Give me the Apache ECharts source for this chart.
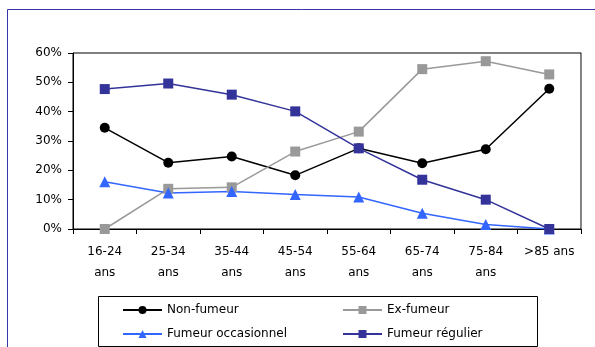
<!DOCTYPE html>
<html>
<head>
<meta charset="utf-8">
<script src="https://cdn.jsdelivr.net/npm/echarts@6/dist/echarts.min.js"></script>
<style>
  html, body { margin: 0; padding: 0; background: #fff; }
  #chart { width: 595px; height: 347px; }
</style>
</head>
<body>
<div id="chart"></div>
<script>
const categories = ['16-24\nans', '25-34\nans', '35-44\nans', '45-54\nans', '55-64\nans', '65-74\nans', '75-84\nans', '>85 ans']
const yTicks = [0, 10, 20, 30, 40, 50, 60]

// values in %
const nonFumeur = [34.5, 22.6, 24.7, 18.3, 27.5, 22.4, 27.2, 47.8]
const exFumeur = [0, 13.7, 14.2, 26.4, 33.2, 54.5, 57.2, 52.7]
const occasionnel = [16.1, 12.3, 12.8, 11.8, 10.9, 5.4, 1.5, 0]
const regulier = [47.7, 49.6, 45.8, 40.1, 27.5, 16.8, 10.0, 0]

const FONT = 'DejaVu Sans'

const chart = echarts.init(document.getElementById('chart'))

function lineSeries(name, data, color, symbol, size) {
  return {
    name,
    type: 'line',
    data,
    symbol,
    symbolSize: size,
    showSymbol: true,
    lineStyle: { color, width: 1.5 },
    itemStyle: { color },
    emphasis: { disabled: true },
    animation: false,
  }
}

const legendBase = {
  orient: 'vertical',
  top: 299,
  itemWidth: 39,
  itemHeight: 10,
  itemGap: 12,
  textStyle: { fontFamily: FONT, fontSize: 12, color: '#000' },
  selectedMode: false,
}

const option = {
  animation: false,
  textStyle: { fontFamily: FONT },
  grid: { left: 73, right: 14, top: 53, bottom: 118, show: true, borderColor: '#000', borderWidth: 1 },
  graphic: [
    // outer frame
    {
      type: 'rect',
      shape: { x: 7.5, y: 9.5, width: 620, height: 400 },
      style: { fill: 'none', stroke: '#3535A5', lineWidth: 1 },
      silent: true,
    },
    // legend box
    {
      type: 'rect',
      shape: { x: 98.5, y: 296.5, width: 439, height: 50 },
      style: { fill: 'none', stroke: '#000', lineWidth: 1 },
      silent: true,
    },
  ],
  legend: [
    Object.assign({ data: ['Non-fumeur', 'Fumeur occasionnel'], left: 117 }, legendBase),
    Object.assign({ data: ['Ex-fumeur', 'Fumeur régulier'], left: 337 }, legendBase),
  ],
  xAxis: {
    type: 'category',
    data: categories,
    boundaryGap: true,
    axisLine: { lineStyle: { color: '#000', width: 1 } },
    axisTick: { show: true, length: 5, lineStyle: { color: '#000' } },
    axisLabel: {
      interval: 0,
      color: '#000',
      fontFamily: FONT,
      fontSize: 12,
      lineHeight: 21,
      margin: 12,
    },
    splitLine: { show: false },
  },
  yAxis: [
    {
      type: 'value',
      min: 0,
      max: 60,
      interval: 10,
      axisLine: { show: true, lineStyle: { color: '#000', width: 1 } },
      axisTick: { show: true, length: 5, lineStyle: { color: '#000' } },
      axisLabel: {
        formatter: (v) => yTicks.includes(v) ? v + '%' : '',
        color: '#000',
        fontFamily: FONT,
        fontSize: 12,
        margin: 11,
      },
      splitLine: { show: false },
    },
    {
      type: 'value',
      min: 0,
      max: 60,
      interval: 10,
      position: 'right',
      axisLine: { show: true, lineStyle: { color: '#888', width: 1 } },
      axisTick: { show: false },
      axisLabel: { show: false },
      splitLine: { show: false },
    },
  ],
  series: [
    lineSeries('Non-fumeur', nonFumeur, '#000000', 'circle', 10),
    lineSeries('Ex-fumeur', exFumeur, '#999999', 'rect', 10),
    lineSeries('Fumeur occasionnel', occasionnel, '#3366FF', 'triangle', 11),
    lineSeries('Fumeur régulier', regulier, '#333399', 'rect', 10),
  ],
}

chart.setOption(option)
</script>
</body>
</html>
